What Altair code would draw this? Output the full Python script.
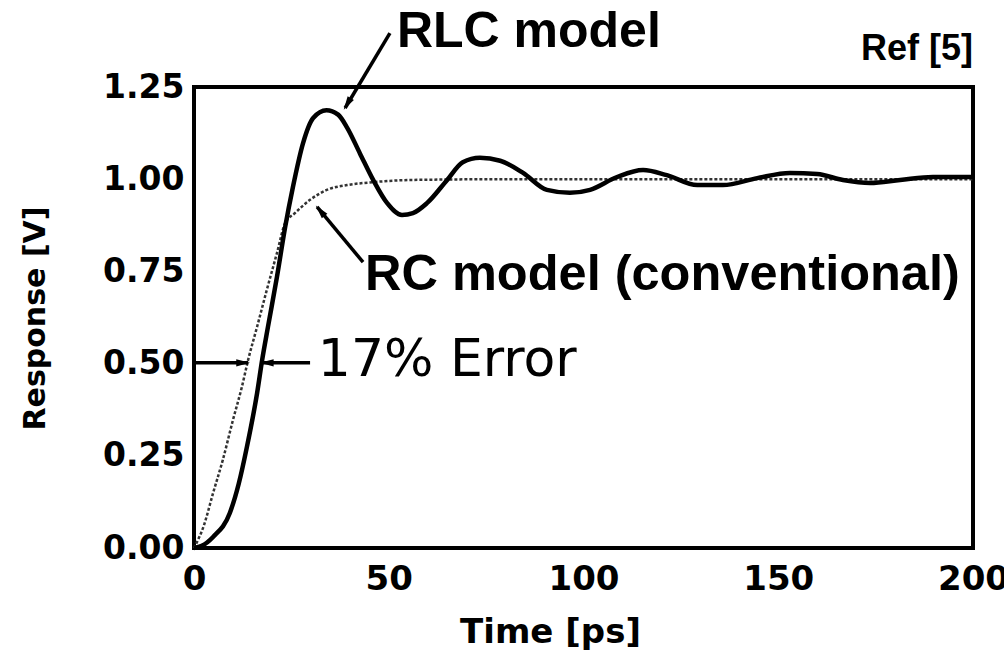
import altair as alt
import pandas as pd

# RLC model response (solid)
t_rlc = [0, 2, 4.9, 9.2, 11.5, 13.6, 16.2, 17.5, 19.0, 21.3, 23.4, 25.4, 28.0, 30.6, 34.0, 37.0,
         39.3, 42.6, 46.0, 49.6, 53.4, 56.2, 59.8, 65.0, 69.0, 73.4, 78.6, 84.5, 90.6, 96.5,
         101.7, 108.6, 115.3, 121.4, 129.2, 135.8, 144.6, 153.0, 160.0, 166.6, 173.6, 181.3, 189.7, 200]
v_rlc = [0, 0.006, 0.03, 0.095, 0.175, 0.275, 0.42, 0.51, 0.60, 0.735, 0.87, 0.979, 1.098, 1.166, 1.187, 1.175,
         1.14, 1.07, 0.998, 0.935, 0.903, 0.908, 0.935, 0.998, 1.046, 1.058, 1.05, 1.017, 0.971, 0.963,
         0.971, 1.006, 1.025, 1.011, 0.984, 0.984, 1.003, 1.017, 1.014, 0.998, 0.99, 0.998, 1.006, 1.006]

# RC model response (dotted)
t_rc = [0, 2.5, 4.9, 7.4, 10.0, 12.3, 13.9, 16.2, 18.7, 21.3, 23.4, 25.9, 29.8, 34.1, 39.3, 46.0, 56.2, 80, 120, 160, 200]
v_rc = [0, 0.06, 0.149, 0.239, 0.347, 0.437, 0.51, 0.60, 0.70, 0.80, 0.881, 0.908, 0.944, 0.971, 0.984, 0.992, 0.998, 1.0, 1.0, 1.0, 1.0]

x_ticks = [0, 50, 100, 150, 200]
y_ticks = [0, 0.25, 0.5, 0.75, 1.0, 1.25]

# annotation arrows (data units)
arr_x1 = [50.3, 43.4, 0.5, 29.8]
arr_y1 = [1.396, 0.775, 0.502, 0.502]
arr_x2 = [38.8, 31.6, 13.9, 17.5]
arr_y2 = [1.193, 0.925, 0.502, 0.502]
head_x = [39.5, 32.6, 12.3, 19.0]
head_y = [1.207, 0.912, 0.502, 0.502]
head_angle = [211, 320, 90, 270]

rlc = pd.DataFrame({"t": t_rlc, "v": v_rlc})
rc = pd.DataFrame({"t": t_rc, "v": v_rc})
arrows = pd.DataFrame({"x": arr_x1, "y": arr_y1, "x2": arr_x2, "y2": arr_y2})
heads = pd.DataFrame({"x": head_x, "y": head_y, "a": head_angle})

xs = alt.Scale(domain=[0, 200], nice=False, zero=False)
ys = alt.Scale(domain=[0, 1.25], nice=False, zero=False)

X = alt.X("t:Q", scale=xs, axis=alt.Axis(
    values=x_ticks, title="Time [ps]", format="d", labelFont="DejaVu Sans", labelFontWeight="bold",
    labelFontSize=34, labelPadding=14, labelColor="black", titleFont="DejaVu Sans", titleFontWeight="bold",
    titleFontSize=34, titleColor="black", titleX=356, titleY=84, titleBaseline="middle", titleAlign="center",
    labelFlush=False))
Y = alt.Y("v:Q", scale=ys, axis=alt.Axis(
    values=y_ticks, title="Response [V]", format=".2f", labelFont="DejaVu Sans", labelFontWeight="bold",
    labelFontSize=33, labelPadding=10, labelColor="black", labelBaseline="middle", titleFont="DejaVu Sans",
    titleFontWeight="bold", titleFontSize=30, titleColor="black", titleX=-159, titleY=231,
    titleAngle=270, titleBaseline="middle", titleAlign="center", labelFlush=False))

rc_line = alt.Chart(rc).mark_line(color="#333333", strokeWidth=2.5, strokeDash=[3, 2],
                                  interpolate="monotone").encode(x=X, y=Y)
rlc_line = alt.Chart(rlc).mark_line(color="black", strokeWidth=4.5,
                                    interpolate="monotone").encode(x="t:Q", y="v:Q")

shafts = alt.Chart(arrows).mark_rule(color="black", strokeWidth=3.5).encode(
    x=alt.X("x:Q", scale=xs), y=alt.Y("y:Q", scale=ys), x2="x2:Q", y2="y2:Q")
arrowheads = alt.Chart(heads).mark_point(
    shape="M0,-1L0.45,0.7L-0.45,0.7Z", filled=True, color="black", opacity=1, size=260
).encode(x=alt.X("x:Q", scale=xs), y=alt.Y("y:Q", scale=ys), angle=alt.Angle("a:Q", scale=None))

def label(txt, tx, ty, size, font="Liberation Sans", weight="bold", align="left", baseline="alphabetic"):
    d = pd.DataFrame({"x": [tx], "y": [ty], "s": [txt]})
    return alt.Chart(d).mark_text(font=font, fontWeight=weight, fontSize=size, align=align,
                                  baseline=baseline, color="black").encode(
        x=alt.X("x:Q", scale=xs), y=alt.Y("y:Q", scale=ys), text="s:N")

texts = [
    label("RLC model", 52.1, 1.358, 50),
    label("Ref [5]", 200, 1.323, 36, align="right"),
    label("RC model (conventional)", 43.9, 0.70, 50.5),
    label("17% Error", 31.8, 0.51, 52, font="DejaVu Sans", weight="normal", baseline="middle"),
]

chart = alt.layer(rc_line, rlc_line, shafts, arrowheads, *texts).properties(
    width=779, height=461,
    autosize=alt.AutoSizeParams(type="none"),
    padding={"left": 194, "top": 87, "right": 31, "bottom": 102},
    background="white",
).configure_view(stroke="black", strokeWidth=4).configure_axis(
    grid=False, ticks=False, domain=False)

chart.save("out.html", embed_options={"renderer": "svg", "actions": False})
